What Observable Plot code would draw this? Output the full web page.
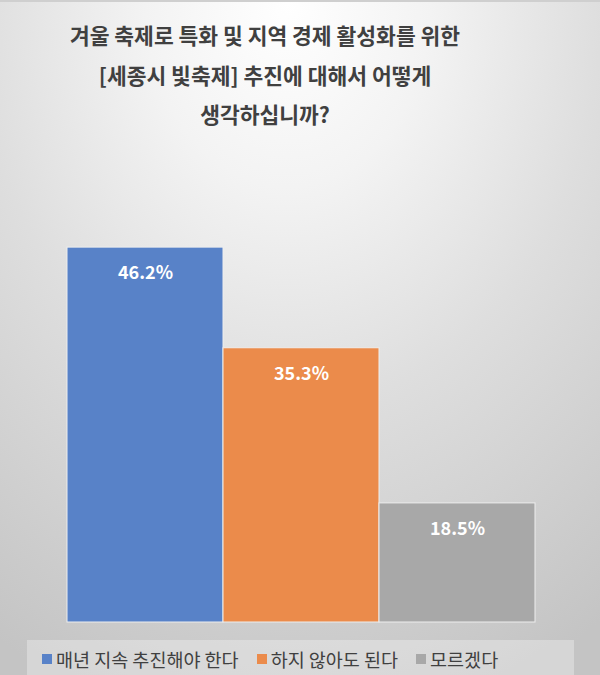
<!DOCTYPE html>
<html>
<head>
<meta charset="utf-8">
<script src="https://cdn.jsdelivr.net/npm/d3@7"></script>
<script src="https://cdn.jsdelivr.net/npm/@observablehq/plot@0.6"></script>
<style>
  html, body { margin: 0; padding: 0; }
  #wrap {
    position: relative; width: 600px; height: 675px; overflow: hidden;
    background: radial-gradient(ellipse 95% 110% at 48% 0%, #ffffff 0%, #f3f3f3 25%, #dedede 55%, #c4c4c4 100%);
    font-family: "Noto Sans CJK KR", "Noto Sans", sans-serif;
    box-sizing: border-box; border-top: 2px solid #cfcfcf;
  }
  #title {
    position: absolute; left: 0; top: 13px; width: 530px; text-align: center;
    font-size: 21.5px; font-weight: bold; color: #404040; line-height: 39.5px;
  }
  #chart { position: absolute; left: 0; top: -2px; }
  #legend {
    position: absolute; left: 27px; top: 638px; width: 547px; height: 37px;
    background: rgba(255,255,255,0.3); display: flex; align-items: center;
    padding-left: 15px; box-sizing: border-box;
    font-size: 18.5px; color: #404040;
  }
  .item { display: flex; align-items: center; margin-right: 18px; }
  .sw { width: 10px; height: 10px; margin-right: 4px; }
</style>
</head>
<body>
<div id="wrap">
  <div id="title">겨울 축제로 특화 및 지역 경제 활성화를 위한<br>[세종시 빛축제] 추진에 대해서 어떻게<br>생각하십니까?</div>
  <div id="chart"></div>
  <div id="legend"></div>
</div>
<script>
const categories = ["매년 지속 추진해야 한다", "하지 않아도 된다", "모르겠다"];
const values = [46.2, 35.3, 18.5];
const labels = ["46.2%", "35.3%", "18.5%"];
const colors = ["#5882C8", "#EB8B4B", "#A8A8A8"];

const data = categories.map((c, i) => ({category: c, value: values[i], label: labels[i]}));

const plot = Plot.plot({
  width: 600,
  height: 642,
  marginTop: 152,
  marginBottom: 20,
  marginLeft: 67,
  marginRight: 65,
  style: {background: "transparent", fontFamily: "'Noto Sans CJK KR', sans-serif"},
  x: {domain: categories, padding: 0, axis: null},
  y: {domain: [5.6, 56.5], clamp: true, axis: null},
  color: {domain: categories, range: colors},
  marks: [
    Plot.barY(data, {x: "category", y: "value", fill: "category", stroke: "#eeeeee", strokeWidth: 1}),
    Plot.text(data, {x: "category", y: "value", text: "label", dy: 26, fill: "white", fontWeight: "bold", fontSize: 18})
  ]
});
document.getElementById("chart").appendChild(plot);

const legend = document.getElementById("legend");
categories.forEach((c, i) => {
  const it = document.createElement("div");
  it.className = "item";
  const sw = document.createElement("span");
  sw.className = "sw";
  sw.style.background = colors[i];
  const tx = document.createElement("span");
  tx.textContent = c;
  it.appendChild(sw); it.appendChild(tx);
  legend.appendChild(it);
});
</script>
</body>
</html>
